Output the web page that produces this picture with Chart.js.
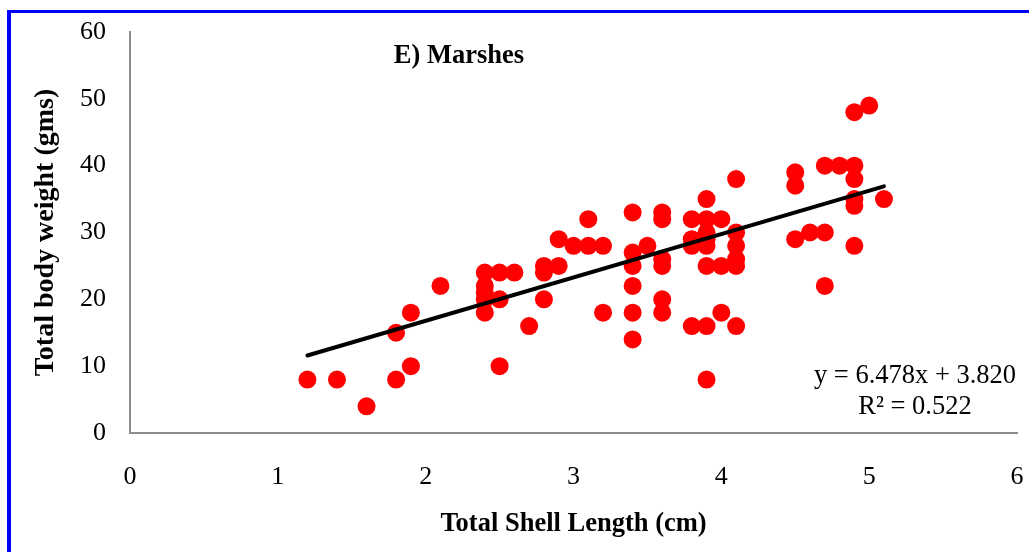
<!DOCTYPE html>
<html>
<head>
<meta charset="utf-8">
<script src="https://cdn.jsdelivr.net/npm/chart.js@4.4.1/dist/chart.umd.min.js"></script>
<style>
  html, body { margin: 0; padding: 0; background: #ffffff; }
  #wrap { position: relative; width: 1029px; height: 552px; overflow: hidden; }
  #frame { position: absolute; left: 7px; top: 10px; width: 1040px; height: 560px;
           border-left: 4px solid #0000ff; border-top: 3px solid #0000ff; pointer-events: none; }
  canvas { position: absolute; left: 0; top: 0; }
</style>
</head>
<body>
<div id="wrap">
  <canvas id="c" width="1029" height="552"></canvas>
  <div id="frame"></div>
</div>
<script>
// Shell length (cm) and body weight (g) pairs
const shellLength = [
  1.2, 1.4, 1.6, 1.8, 1.8, 1.9, 1.9, 2.1,
  2.4, 2.4, 2.4, 2.4, 2.4, 2.5, 2.5, 2.5, 2.6, 2.7,
  2.8, 2.8, 2.8, 2.9, 2.9, 3.0, 3.1, 3.1, 3.2, 3.2,
  3.4, 3.4, 3.4, 3.4, 3.4, 3.4, 3.5,
  3.6, 3.6, 3.6, 3.6, 3.6, 3.6,
  3.8, 3.8, 3.8, 3.8,
  3.9, 3.9, 3.9, 3.9, 3.9, 3.9, 3.9, 3.9,
  4.0, 4.0, 4.0,
  4.1, 4.1, 4.1, 4.1, 4.1, 4.1,
  4.5, 4.5, 4.5, 4.6, 4.7, 4.7, 4.7, 4.8,
  4.9, 4.9, 4.9, 4.9, 4.9, 4.9, 5.0, 5.1
];
const bodyWeight = [
  8, 8, 4, 8, 15, 10, 18, 22,
  24, 22, 21, 20, 18, 24, 20, 10, 24, 16,
  25, 24, 20, 29, 25, 28, 32, 28, 28, 18,
  33, 27, 25, 22, 18, 14, 28,
  33, 32, 26, 25, 20, 18,
  32, 29, 28, 16,
  35, 32, 30, 29, 28, 25, 16, 8,
  32, 25, 18,
  38, 30, 28, 26, 25, 16,
  39, 37, 29, 30, 40, 30, 22, 40,
  48, 40, 38, 35, 34, 28, 49, 35
];
// Linear trend line end points
const trendX = [1.2, 5.1];
const trendY = [11.6, 36.9];
// Axis ticks
const xTicks = [0, 1, 2, 3, 4, 5, 6];
const yTicks = [0, 10, 20, 30, 40, 50, 60];
// Texts
const chartTitle = 'E) Marshes';
const xTitle = 'Total Shell Length (cm)';
const yTitle = 'Total body weight (gms)';
const eqLine1 = 'y = 6.478x + 3.820';
const eqLine2 = 'R² = 0.522';

const points = shellLength.map((x, i) => ({ x: x, y: bodyWeight[i] }));
const trend = trendX.map((x, i) => ({ x: x, y: trendY[i] }));

const SERIF = "'Liberation Serif', 'Times New Roman', serif";

const textPlugin = {
  id: 'texts',
  afterDraw(chart) {
    const ctx = chart.ctx;
    ctx.save();
    ctx.fillStyle = '#000';
    ctx.textAlign = 'center';
    ctx.textBaseline = 'middle';
    ctx.font = "bold 26.5px " + SERIF;
    ctx.fillText(chartTitle, 459, 56);
    ctx.font = "26.5px " + SERIF;
    ctx.fillText(eqLine1, 915, 376);
    ctx.fillText(eqLine2, 915, 407);
    ctx.restore();
  }
};

new Chart(document.getElementById('c'), {
  type: 'scatter',
  data: {
    datasets: [
      {
        label: 'trend',
        type: 'line',
        data: trend,
        borderColor: '#000000',
        borderWidth: 4,
        borderCapStyle: 'round',
        pointRadius: 0,
        fill: false,
        order: 0
      },
      {
        label: 'data',
        data: points,
        backgroundColor: '#ff0000',
        borderColor: '#ff0000',
        borderWidth: 0,
        pointRadius: 9,
        pointHoverRadius: 9,
        order: 1
      }
    ]
  },
  options: {
    responsive: false,
    animation: false,
    devicePixelRatio: 1,
    layout: { padding: { left: 0, right: 12, top: 32, bottom: 0 } },
    plugins: {
      legend: { display: false },
      tooltip: { enabled: false },
      title: { display: false }
    },
    scales: {
      x: {
        type: 'linear',
        min: 0, max: 6,
        afterBuildTicks(scale) { scale.ticks = xTicks.map(v => ({ value: v })); },
        afterFit(scale) { scale.height = 119; },
        grid: { display: true, drawOnChartArea: false, drawTicks: true, tickLength: 29, color: 'rgba(0,0,0,0)' },
        border: { display: true, color: '#8c8c8c', width: 2 },
        ticks: { color: '#000', padding: 0, font: { family: SERIF, size: 26 } },
        title: {
          display: true, text: xTitle, color: '#000',
          font: { family: SERIF, size: 26.5, weight: 'bold' },
          padding: { top: 0, bottom: 12 }
        }
      },
      y: {
        type: 'linear',
        min: 0, max: 60,
        afterBuildTicks(scale) { scale.ticks = yTicks.map(v => ({ value: v })); },
        afterFit(scale) { scale.width = 130; },
        grid: { display: true, drawOnChartArea: false, drawTicks: true, tickLength: 24, color: 'rgba(0,0,0,0)' },
        border: { display: true, color: '#8c8c8c', width: 2 },
        ticks: { color: '#000', padding: 0, font: { family: SERIF, size: 26 } },
        title: {
          display: true, text: yTitle, color: '#000',
          font: { family: SERIF, size: 28, weight: 'bold' },
          padding: { top: 29, bottom: 0 }
        }
      }
    }
  },
  plugins: [textPlugin]
});
</script>
</body>
</html>
